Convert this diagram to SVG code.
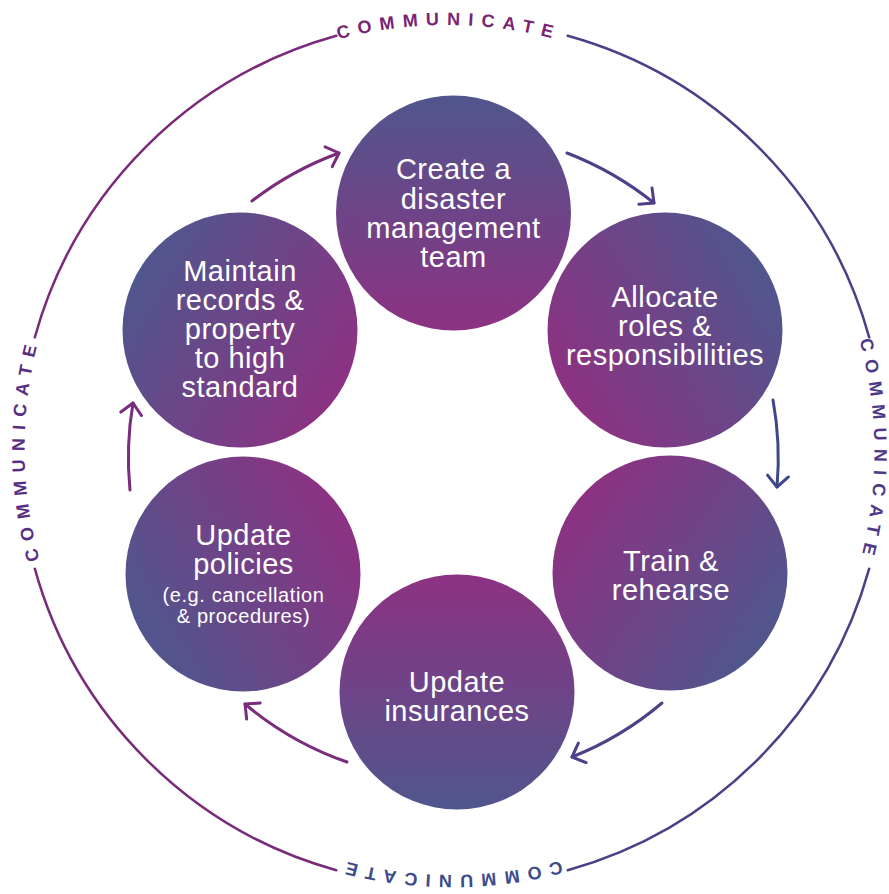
<svg xmlns="http://www.w3.org/2000/svg" width="889" height="894" viewBox="0 0 889 894">
<style>
.ring{fill:none;stroke-width:2.5;stroke-linecap:round}
.rt{font-family:"Liberation Sans",Arial,sans-serif;font-size:18px;font-weight:bold;letter-spacing:8px}
.lbl{font-family:"Liberation Sans",Arial,sans-serif;font-size:29px;letter-spacing:0.5px;fill:#fff;text-anchor:middle}
.sm{font-size:20px;letter-spacing:0.6px}
.arr{fill:none;stroke-width:3;stroke-linecap:round}
</style>
<defs>
<path id="tp" d="M150.4,749.1 A423,423 0 1 1 748.6,150.9 A423,423 0 1 1 150.4,749.1"/>
<linearGradient id="g1" x1="0.5" y1="1" x2="0.5" y2="0"><stop offset="0" stop-color="#8c3282"/><stop offset="1" stop-color="#50568d"/></linearGradient>
<linearGradient id="g2" x1="0.07" y1="0.75" x2="0.93" y2="0.25"><stop offset="0" stop-color="#8c3282"/><stop offset="1" stop-color="#50568d"/></linearGradient>
<linearGradient id="g3" x1="0.09" y1="0.215" x2="0.91" y2="0.785"><stop offset="0" stop-color="#8c3282"/><stop offset="1" stop-color="#50568d"/></linearGradient>
<linearGradient id="g4" x1="0.5" y1="0" x2="0.5" y2="1"><stop offset="0" stop-color="#8c3282"/><stop offset="1" stop-color="#50568d"/></linearGradient>
<linearGradient id="g5" x1="0.93" y1="0.25" x2="0.07" y2="0.75"><stop offset="0" stop-color="#8c3282"/><stop offset="1" stop-color="#50568d"/></linearGradient>
<linearGradient id="g6" x1="0.93" y1="0.75" x2="0.07" y2="0.25"><stop offset="0" stop-color="#8c3282"/><stop offset="1" stop-color="#50568d"/></linearGradient>
<marker id="mMag" markerUnits="userSpaceOnUse" orient="auto" refX="0" refY="0" markerWidth="30" markerHeight="30" viewBox="-15 -15 30 30" overflow="visible"><path d="M-11,-10.5 L0,0 L-11,10.5" fill="none" stroke="#7a2c7d" stroke-width="3" stroke-linecap="round" stroke-linejoin="round"/></marker>
<marker id="mPur" markerUnits="userSpaceOnUse" orient="auto" refX="0" refY="0" markerWidth="30" markerHeight="30" viewBox="-15 -15 30 30" overflow="visible"><path d="M-11,-10.5 L0,0 L-11,10.5" fill="none" stroke="#4f3f88" stroke-width="3" stroke-linecap="round" stroke-linejoin="round"/></marker>
<marker id="mBlu" markerUnits="userSpaceOnUse" orient="auto" refX="0" refY="0" markerWidth="30" markerHeight="30" viewBox="-15 -15 30 30" overflow="visible"><path d="M-11,-10.5 L0,0 L-11,10.5" fill="none" stroke="#3f4789" stroke-width="3" stroke-linecap="round" stroke-linejoin="round"/></marker>
</defs>
<g id="outer-ring">
<path class="ring" stroke="#7a2a78" d="M34.8,337.3 A433,433 0 0 1 336.3,35.8"/>
<path class="ring" stroke="#4b3f87" d="M567.7,35.8 A433,433 0 0 1 869.2,337.3"/>
<path class="ring" stroke="#474186" d="M869.2,568.7 A433,433 0 0 1 567.7,870.2"/>
<path class="ring" stroke="#782b79" d="M336.3,870.2 A433,433 0 0 1 34.8,568.7"/>
<text class="rt" fill="#5a2f83"><textPath href="#tp" startOffset="12.5%" text-anchor="middle">COMMUNICATE</textPath></text>
<text class="rt" fill="#7a2474"><textPath href="#tp" startOffset="37.5%" text-anchor="middle">COMMUNICATE</textPath></text>
<text class="rt" fill="#4f3a89"><textPath href="#tp" startOffset="62.5%" text-anchor="middle">COMMUNICATE</textPath></text>
<text class="rt" fill="#3d4a8c"><textPath href="#tp" startOffset="87.5%" text-anchor="middle">COMMUNICATE</textPath></text>
</g>
<g id="connectors">
<path class="arr" stroke="#7a2c7d" marker-end="url(#mMag)" d="M252,201 A324,324 0 0 1 339,153"/>
<path class="arr" stroke="#4f3f88" marker-end="url(#mPur)" d="M567,153 A324,324 0 0 1 654,203"/>
<path class="arr" stroke="#3f4789" marker-end="url(#mBlu)" d="M773,400 A324,324 0 0 1 777,487"/>
<path class="arr" stroke="#4f3f88" marker-end="url(#mPur)" d="M662,703 A324,324 0 0 1 572,757"/>
<path class="arr" stroke="#7a2c7d" marker-end="url(#mMag)" d="M347,762 A324,324 0 0 1 245,704"/>
<path class="arr" stroke="#7a2c7d" marker-end="url(#mMag)" d="M130,490 A324,324 0 0 1 133,403"/>
</g>
<g id="node-create">
<circle cx="453.5" cy="213" r="117.5" fill="url(#g1)"/>
<text class="lbl"><tspan x="453.5" y="179">Create a</tspan><tspan x="453.5" y="209">disaster</tspan><tspan x="453.5" y="238">management</tspan><tspan x="453.5" y="267">team</tspan></text>
</g>
<g id="node-allocate">
<circle cx="665" cy="330" r="117.5" fill="url(#g2)"/>
<text class="lbl"><tspan x="665" y="307">Allocate</tspan><tspan x="665" y="336">roles &amp;</tspan><tspan x="665" y="365">responsibilities</tspan></text>
</g>
<g id="node-train">
<circle cx="670" cy="573" r="117.5" fill="url(#g3)"/>
<text class="lbl"><tspan x="671" y="571">Train &amp;</tspan><tspan x="671" y="600">rehearse</tspan></text>
</g>
<g id="node-insurances">
<circle cx="457" cy="692" r="117.5" fill="url(#g4)"/>
<text class="lbl"><tspan x="457" y="692">Update</tspan><tspan x="457" y="721">insurances</tspan></text>
</g>
<g id="node-policies">
<circle cx="243" cy="574" r="117.5" fill="url(#g5)"/>
<text class="lbl"><tspan x="243.5" y="545">Update</tspan><tspan x="243.5" y="574">policies</tspan><tspan class="sm" x="243.5" y="602">(e.g. cancellation</tspan><tspan class="sm" x="243.5" y="623">&amp; procedures)</tspan></text>
</g>
<g id="node-maintain">
<circle cx="240" cy="330" r="117.5" fill="url(#g6)"/>
<text class="lbl"><tspan x="240" y="281">Maintain</tspan><tspan x="240" y="310">records &amp;</tspan><tspan x="240" y="339">property</tspan><tspan x="240" y="368">to high</tspan><tspan x="240" y="397">standard</tspan></text>
</g>
</svg>
